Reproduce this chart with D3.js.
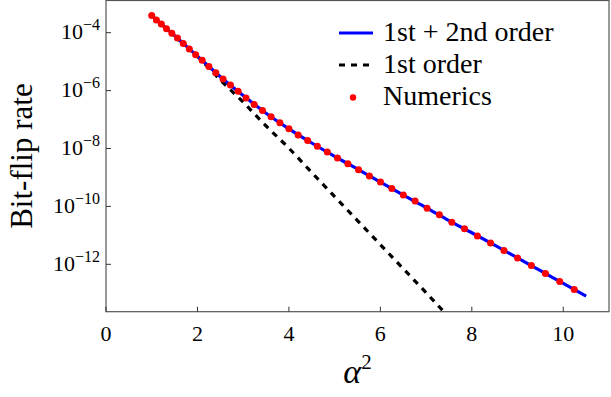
<!DOCTYPE html>
<html>
<head>
<meta charset="utf-8">
<script src="https://cdn.jsdelivr.net/npm/d3@7/dist/d3.min.js"></script>
<style>
  body { margin: 0; background: #fff; }
  text { font-family: "Liberation Serif", "Times New Roman", serif; fill: #000; }
</style>
</head>
<body>
<div id="chart"></div>
<script>
// Numerics: x = alpha^2, y = log10(bit-flip rate)
var numericsX = [1, 1.1025, 1.21, 1.3225, 1.44, 1.5625, 1.69, 1.8225, 1.96, 2.1025,
    2.25, 2.4025, 2.56, 2.7225, 2.89, 3.0625, 3.24, 3.4225, 3.61, 3.8025,
    4, 4.2025, 4.41, 4.6225, 4.84, 5.0625, 5.29, 5.5225, 5.76, 6.0025,
    6.25, 6.5025, 6.76, 7.0225, 7.29, 7.5625, 7.84, 8.1225, 8.41, 8.7025,
    9, 9.3025, 9.61, 9.9225, 10.24];
var numericsLog = [-3.41, -3.56, -3.70, -3.86, -4.02, -4.18, -4.37, -4.56, -4.76, -4.95,
    -5.17, -5.38, -5.60, -5.81, -6.02, -6.26, -6.48, -6.69, -6.90, -7.11,
    -7.32, -7.53, -7.72, -7.92, -8.12, -8.33, -8.53, -8.73, -8.95, -9.16,
    -9.38, -9.61, -9.81, -10.06, -10.29, -10.55, -10.77, -11.02, -11.26, -11.52,
    -11.78, -12.04, -12.32, -12.59, -12.87];

// 1st + 2nd order
var secondX = [1, 1.5, 2, 2.5, 3, 3.5, 4, 4.5, 5, 5.5, 6, 6.5, 7, 7.5, 8, 8.5, 9, 9.5, 10, 10.5];
var secondLog = [-3.41, -4.10, -4.81, -5.52, -6.17, -6.78, -7.32, -7.81, -8.27, -8.71,
    -9.16, -9.61, -10.04, -10.49, -10.91, -11.34, -11.78, -12.22, -12.66, -13.10];

// 1st order
var firstX = [1, 1.5, 2, 2.5, 3, 3.5, 4, 4.5, 5, 5.5, 6, 6.5, 7, 7.4];
var firstLog = [-3.41, -4.11, -4.82, -5.63, -6.40, -7.22, -7.99, -8.83, -9.66, -10.49,
    -11.32, -12.15, -12.98, -13.66];

var xTicks = [0, 2, 4, 6, 8, 10];
var yTickExps = [-4, -6, -8, -10, -12];
var legendLabels = ['1st + 2nd order', '1st order', 'Numerics'];

var chartWidth = 611, chartHeight = 397;
var pL = 106, pR = 609, pT = 0.5, pB = 311.7;

var svg = d3.select('#chart').append('svg')
    .attr('width', chartWidth)
    .attr('height', chartHeight);

var x = d3.scaleLinear().domain([0, 11]).range([pL, pR]);
var y = d3.scaleLog().domain([Math.pow(10, -13.637), Math.pow(10, -2.888)]).range([pB, pT]);

function toPoints(xs, logs) {
    return xs.map(function(v, i) { return [v, Math.pow(10, logs[i])]; });
}

svg.append('clipPath').attr('id', 'plotclip')
    .append('rect')
    .attr('x', pL).attr('y', pT)
    .attr('width', pR - pL).attr('height', pB - pT);

var line = d3.line()
    .x(function(d) { return x(d[0]); })
    .y(function(d) { return y(d[1]); })
    .curve(d3.curveMonotoneX);

var plot = svg.append('g').attr('clip-path', 'url(#plotclip)');

plot.append('path')
    .datum(toPoints(firstX, firstLog))
    .attr('d', line)
    .attr('fill', 'none')
    .attr('stroke', '#000')
    .attr('stroke-width', 3.2)
    .attr('stroke-dasharray', '6,6');

plot.append('path')
    .datum(toPoints(secondX, secondLog))
    .attr('d', line)
    .attr('fill', 'none')
    .attr('stroke', '#0000ff')
    .attr('stroke-width', 3.2);

plot.selectAll('circle.num')
    .data(toPoints(numericsX, numericsLog))
    .enter()
    .append('circle')
    .attr('class', 'num')
    .attr('cx', function(d) { return x(d[0]); })
    .attr('cy', function(d) { return y(d[1]); })
    .attr('r', 3.5)
    .attr('fill', '#ff0000');

// frame
svg.append('rect')
    .attr('x', pL).attr('y', pT)
    .attr('width', pR - pL).attr('height', pB - pT)
    .attr('fill', 'none')
    .attr('stroke', '#555')
    .attr('stroke-width', 1.2);

// x ticks (inward)
svg.selectAll('line.xt')
    .data(xTicks)
    .enter()
    .append('line')
    .attr('class', 'xt')
    .attr('x1', function(d) { return x(d); })
    .attr('x2', function(d) { return x(d); })
    .attr('y1', pB)
    .attr('y2', pB - 5)
    .attr('stroke', '#333')
    .attr('stroke-width', 1);

svg.selectAll('text.xt')
    .data(xTicks)
    .enter()
    .append('text')
    .attr('class', 'xt')
    .attr('x', function(d) { return x(d); })
    .attr('y', 341)
    .attr('text-anchor', 'middle')
    .style('font-size', '22px')
    .text(function(d) { return d; });

// y ticks (inward)
svg.selectAll('line.yt')
    .data(yTickExps)
    .enter()
    .append('line')
    .attr('class', 'yt')
    .attr('x1', pL)
    .attr('x2', pL + 5)
    .attr('y1', function(d) { return y(Math.pow(10, d)); })
    .attr('y2', function(d) { return y(Math.pow(10, d)); })
    .attr('stroke', '#333')
    .attr('stroke-width', 1);

var yt = svg.selectAll('text.yt')
    .data(yTickExps)
    .enter()
    .append('text')
    .attr('class', 'yt')
    .attr('x', 100)
    .attr('y', function(d) { return y(Math.pow(10, d)) + 6.8; })
    .attr('text-anchor', 'end')
    .style('font-size', '22px');
yt.append('tspan').text('10');
yt.append('tspan')
    .attr('dy', -9.5)
    .style('font-size', '16px')
    .text(function(d) { return '\u2212' + Math.abs(d); });

// axis labels
svg.append('text')
    .attr('transform', 'translate(' + 32 + ',' + ((pT + pB) / 2) + ') rotate(-90)')
    .attr('text-anchor', 'middle')
    .style('font-size', '31px')
    .text('Bit-flip rate');

var xl = svg.append('text')
    .attr('x', (pL + pR) / 2)
    .attr('y', 383)
    .attr('text-anchor', 'middle')
    .style('font-size', '34px');
xl.append('tspan').style('font-style', 'italic').text('\u03b1');
xl.append('tspan').attr('dy', -14).style('font-size', '21px').text('2');

// legend
var lg = svg.append('g');
var rowY = [33, 65, 97];
lg.append('line')
    .attr('x1', 339).attr('x2', 373).attr('y1', rowY[0]).attr('y2', rowY[0])
    .attr('stroke', '#0000ff').attr('stroke-width', 3);
lg.append('line')
    .attr('x1', 339).attr('x2', 373).attr('y1', rowY[1]).attr('y2', rowY[1])
    .attr('stroke', '#000').attr('stroke-width', 3)
    .attr('stroke-dasharray', '6,6');
lg.append('circle')
    .attr('cx', 353).attr('cy', rowY[2] + 0.5).attr('r', 3.2)
    .attr('fill', '#ff0000');
lg.selectAll('text')
    .data(legendLabels)
    .enter()
    .append('text')
    .attr('x', 383)
    .attr('y', function(d, i) { return rowY[i] + 7.5; })
    .style('font-size', '28px')
    .text(function(d) { return d; });
</script>
</body>
</html>
